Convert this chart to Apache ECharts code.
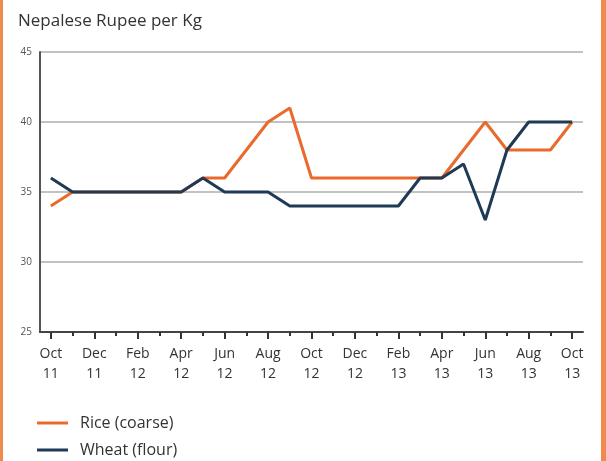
<!DOCTYPE html>
<html>
<head>
<meta charset="utf-8">
<script src="https://cdn.jsdelivr.net/npm/echarts@6/dist/echarts.min.js"></script>
<style>
  html, body { margin: 0; padding: 0; background: #fff; }
  #frame { position: relative; width: 606px; height: 461px; box-sizing: border-box;
           border-left: 3px solid #f08a4b; border-right: 5px solid #f08a4b; }
  #chart { position: absolute; left: -3px; top: 0; width: 606px; height: 461px; }
</style>
</head>
<body>
<div id="frame"><div id="chart"></div></div>
<script>
// Monthly prices, October 2011 to October 2013
const months = [
  'Oct\n11', 'Nov\n11', 'Dec\n11', 'Jan\n12', 'Feb\n12', 'Mar\n12', 'Apr\n12', 'May\n12',
  'Jun\n12', 'Jul\n12', 'Aug\n12', 'Sep\n12', 'Oct\n12', 'Nov\n12', 'Dec\n12', 'Jan\n13',
  'Feb\n13', 'Mar\n13', 'Apr\n13', 'May\n13', 'Jun\n13', 'Jul\n13', 'Aug\n13', 'Sep\n13', 'Oct\n13'
];
const rice = [34, 35, 35, 35, 35, 35, 35, 36, 36, 38, 40, 41, 36, 36, 36, 36, 36, 36, 36, 38, 40, 38, 38, 38, 40];
const wheat = [36, 35, 35, 35, 35, 35, 35, 36, 35, 35, 35, 34, 34, 34, 34, 34, 34, 36, 36, 37, 33, 38, 40, 40, 40];
const yTicks = [25, 30, 35, 40, 45];

const FONT = '"Open Sans"';
const ORANGE = '#ea6a2c';
const NAVY = '#1f3a56';

const chart = echarts.init(document.getElementById('chart'), null, { renderer: 'canvas' });

// one legend block per series, stacked vertically
function legendRow(name, top) {
  return {
    data: [name],
    left: 32, top: top,
    icon: 'rect',
    itemWidth: 31, itemHeight: 3,
    textStyle: { fontFamily: FONT, fontSize: 16, color: '#333', padding: [0, 0, 0, 7] }
  };
}

chart.setOption({
  animation: false,
  title: {
    text: 'Nepalese Rupee per Kg',
    left: 13, top: 8,
    textStyle: { fontFamily: FONT, fontSize: 17, fontWeight: 'normal', color: '#333' }
  },
  legend: [legendRow('Rice (coarse)', 410), legendRow('Wheat (flour)', 437)],
  grid: { left: 40, right: 23, top: 52, bottom: 129, containLabel: false },
  xAxis: [
    {
      type: 'category',
      position: 'bottom',
      data: months,
      boundaryGap: true,
      axisLine: { show: true, lineStyle: { color: '#444', width: 2 } },
      axisTick: {
        show: true,
        alignWithLabel: true,
        interval: 1,
        length: 7,
        lineStyle: { color: '#333', width: 2 }
      },
      axisLabel: {
        interval: 1,
        margin: 12,
        fontFamily: FONT, fontSize: 14, color: '#333', lineHeight: 20
      },
      splitLine: { show: false }
    },
    {
      type: 'category',
      position: 'bottom',
      data: months,
      boundaryGap: true,
      axisLine: { show: false },
      axisTick: {
        show: true,
        alignWithLabel: true,
        interval: 0,
        length: 4,
        lineStyle: { color: '#333', width: 2 }
      },
      axisLabel: { show: false },
      splitLine: { show: false }
    }
  ],
  yAxis: {
    type: 'value',
    min: yTicks[0],
    max: yTicks[yTicks.length - 1],
    interval: 5,
    axisLine: { show: true, lineStyle: { color: '#555', width: 2 } },
    axisTick: { show: false },
    axisLabel: { margin: 8, fontFamily: FONT, fontSize: 10, color: '#555' },
    splitLine: { lineStyle: { color: '#c2c2c2', width: 2 } }
  },
  series: [
    {
      name: 'Rice (coarse)',
      type: 'line',
      data: rice,
      symbol: 'none',
      lineStyle: { color: ORANGE, width: 3 },
      itemStyle: { color: ORANGE },
      z: 3
    },
    {
      name: 'Wheat (flour)',
      type: 'line',
      data: wheat,
      symbol: 'none',
      lineStyle: { color: NAVY, width: 3 },
      itemStyle: { color: NAVY },
      z: 4
    }
  ]
});
</script>
</body>
</html>
